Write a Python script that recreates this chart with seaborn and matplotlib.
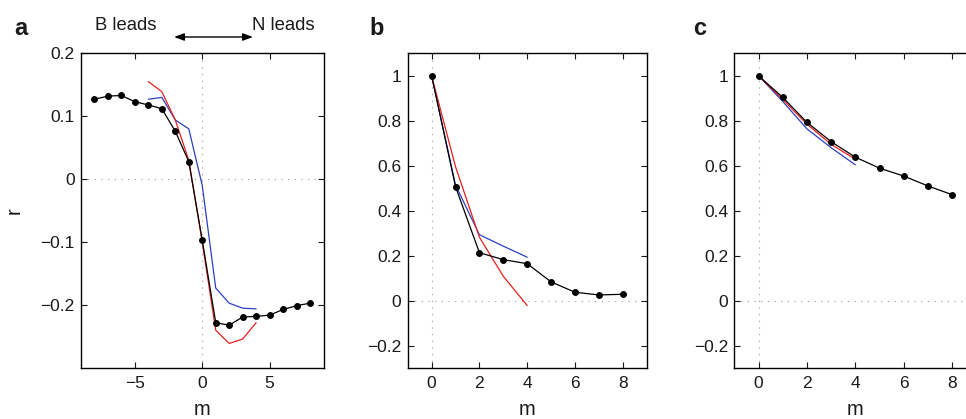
import matplotlib
matplotlib.use("Agg")
import matplotlib.pyplot as plt
import seaborn as sns
import numpy as np
import pandas as pd

# ---------------- data ----------------
# panel a: cross-correlation vs lag m
a_m_black = [-8, -7, -6, -5, -4, -3, -2, -1, 0, 1, 2, 3, 4, 5, 6, 7, 8]
a_r_black = [0.127, 0.132, 0.133, 0.123, 0.118, 0.112, 0.076, 0.028, -0.097,
             -0.228, -0.232, -0.219, -0.218, -0.216, -0.207, -0.201, -0.197]
a_m_model = [-4, -3, -2, -1, 0, 1, 2, 3, 4]
a_r_red = [0.155, 0.139, 0.094, 0.030, -0.100, -0.240, -0.261, -0.254, -0.228]
a_r_blue = [0.127, 0.130, 0.094, 0.080, -0.010, -0.173, -0.197, -0.205, -0.206]

# panel b
b_m_black = [0, 1, 2, 3, 4, 5, 6, 7, 8]
b_r_black = [1.0, 0.507, 0.213, 0.182, 0.164, 0.083, 0.037, 0.025, 0.028]
b_m_model = [0, 1, 2, 3, 4]
b_r_red = [1.0, 0.596, 0.282, 0.108, -0.022]
b_r_blue = [1.0, 0.514, 0.293, 0.242, 0.193]

# panel c
c_m_black = [0, 1, 2, 3, 4, 5, 6, 7, 8]
c_r_black = [1.0, 0.904, 0.793, 0.707, 0.638, 0.589, 0.554, 0.510, 0.471]
c_m_model = [0, 1, 2, 3, 4]
c_r_red = [1.0, 0.895, 0.785, 0.695, 0.629]
c_r_blue = [1.0, 0.886, 0.764, 0.680, 0.604]

a_xticks = [-5, 0, 5]
a_xticklabels = ["\u22125", "0", "5"]
a_yticks = [-0.2, -0.1, 0, 0.1, 0.2]
a_yticklabels = ["\u22120.2", "\u22120.1", "0", "0.1", "0.2"]
bc_xticks = [0, 2, 4, 6, 8]
bc_yticks = [-0.2, 0, 0.2, 0.4, 0.6, 0.8, 1]
bc_yticklabels = ["\u22120.2", "0", "0.2", "0.4", "0.6", "0.8", "1"]

# ---------------- style ----------------
sns.set_style("ticks")
plt.rcParams["font.family"] = ["Liberation Sans", "DejaVu Sans"]
plt.rcParams["axes.unicode_minus"] = True

RED = "#e8201c"
BLUE = "#2b3fbf"
TXT = "#1a1a1a"

fig = plt.figure(figsize=(9.66, 4.19), dpi=100)
W, H = 966.0, 419.0
bottom = 51 / H
height = 314.7 / H
ax_a = fig.add_axes([81 / W, bottom, 242.5 / W, height])
ax_b = fig.add_axes([407.7 / W, bottom, 239 / W, height])
ax_c = fig.add_axes([734.3 / W, bottom, 242 / W, height])


def draw(ax, mb, rb, mm, rr, rbl):
    ax.axhline(0, color="#9a9a9a", lw=0.8, ls=(0, (1, 5)), zorder=0)
    ax.axvline(0, color="#9a9a9a", lw=0.8, ls=(0, (1, 5)), zorder=0)
    sns.lineplot(x=mm, y=rbl, ax=ax, color=BLUE, lw=0.9, sort=False,
                 errorbar=None, estimator=None)
    sns.lineplot(x=mm, y=rr, ax=ax, color=RED, lw=0.9, sort=False,
                 errorbar=None, estimator=None)
    sns.lineplot(x=mb, y=rb, ax=ax, color="black", lw=0.9, sort=False,
                 errorbar=None, estimator=None, marker="o", markersize=4.2,
                 markeredgecolor="black", markerfacecolor="black")
    for s in ax.spines.values():
        s.set_visible(True)
        s.set_color("black")
        s.set_linewidth(1.0)
    ax.tick_params(direction="in", length=4.5, width=0.8, top=True, right=True,
                   labelsize=12.5, pad=6, colors=TXT)
    ax.tick_params(axis="y", pad=4.5)


draw(ax_a, a_m_black, a_r_black, a_m_model, a_r_red, a_r_blue)
draw(ax_b, b_m_black, b_r_black, b_m_model, b_r_red, b_r_blue)
draw(ax_c, c_m_black, c_r_black, c_m_model, c_r_red, c_r_blue)

ax_a.set_xlim(-9, 9)
ax_a.set_ylim(-0.3, 0.2)
ax_a.set_xticks(a_xticks)
ax_a.set_xticklabels(a_xticklabels)
ax_a.set_yticks(a_yticks)
ax_a.set_yticklabels(a_yticklabels)

for ax in (ax_b, ax_c):
    ax.set_xlim(-1, 9)
    ax.set_ylim(-0.3, 1.1)
    ax.set_xticks(bc_xticks)
    ax.set_yticks(bc_yticks)
    ax.set_yticklabels(bc_yticklabels)

for ax in (ax_a, ax_b, ax_c):
    ax.set_xlabel("m", fontsize=14.5, color=TXT)
    ax.xaxis.set_label_coords(0.5, -0.101)
    ax.set_ylabel("")

ax_a.set_ylabel("r", fontsize=14.5, color=TXT)
ax_a.yaxis.set_label_coords(-0.235, 0.5)

# panel letters
fig.text(14 / W, 1 - 35 / H, "a", fontsize=17, fontweight="bold", va="baseline",
         color=TXT)
fig.text(369 / W, 1 - 35 / H, "b", fontsize=17, fontweight="bold", va="baseline",
         color=TXT)
fig.text(693 / W, 1 - 35 / H, "c", fontsize=17, fontweight="bold", va="baseline",
         color=TXT)

# lead annotations
fig.text(125.5 / W, 1 - 30 / H, "B leads", fontsize=13.3, ha="center",
         va="baseline", color=TXT)
fig.text(283 / W, 1 - 30 / H, "N leads", fontsize=13.3, ha="center",
         va="baseline", color=TXT)
fig.add_artist(matplotlib.patches.FancyArrowPatch(
    (174 / W, 1 - 37 / H), (253 / W, 1 - 37 / H), transform=fig.transFigure,
    arrowstyle="<|-|>,head_length=6,head_width=2.2", color="black", lw=1.0,
    shrinkA=0, shrinkB=0))

fig.savefig("out.png", dpi=100)
